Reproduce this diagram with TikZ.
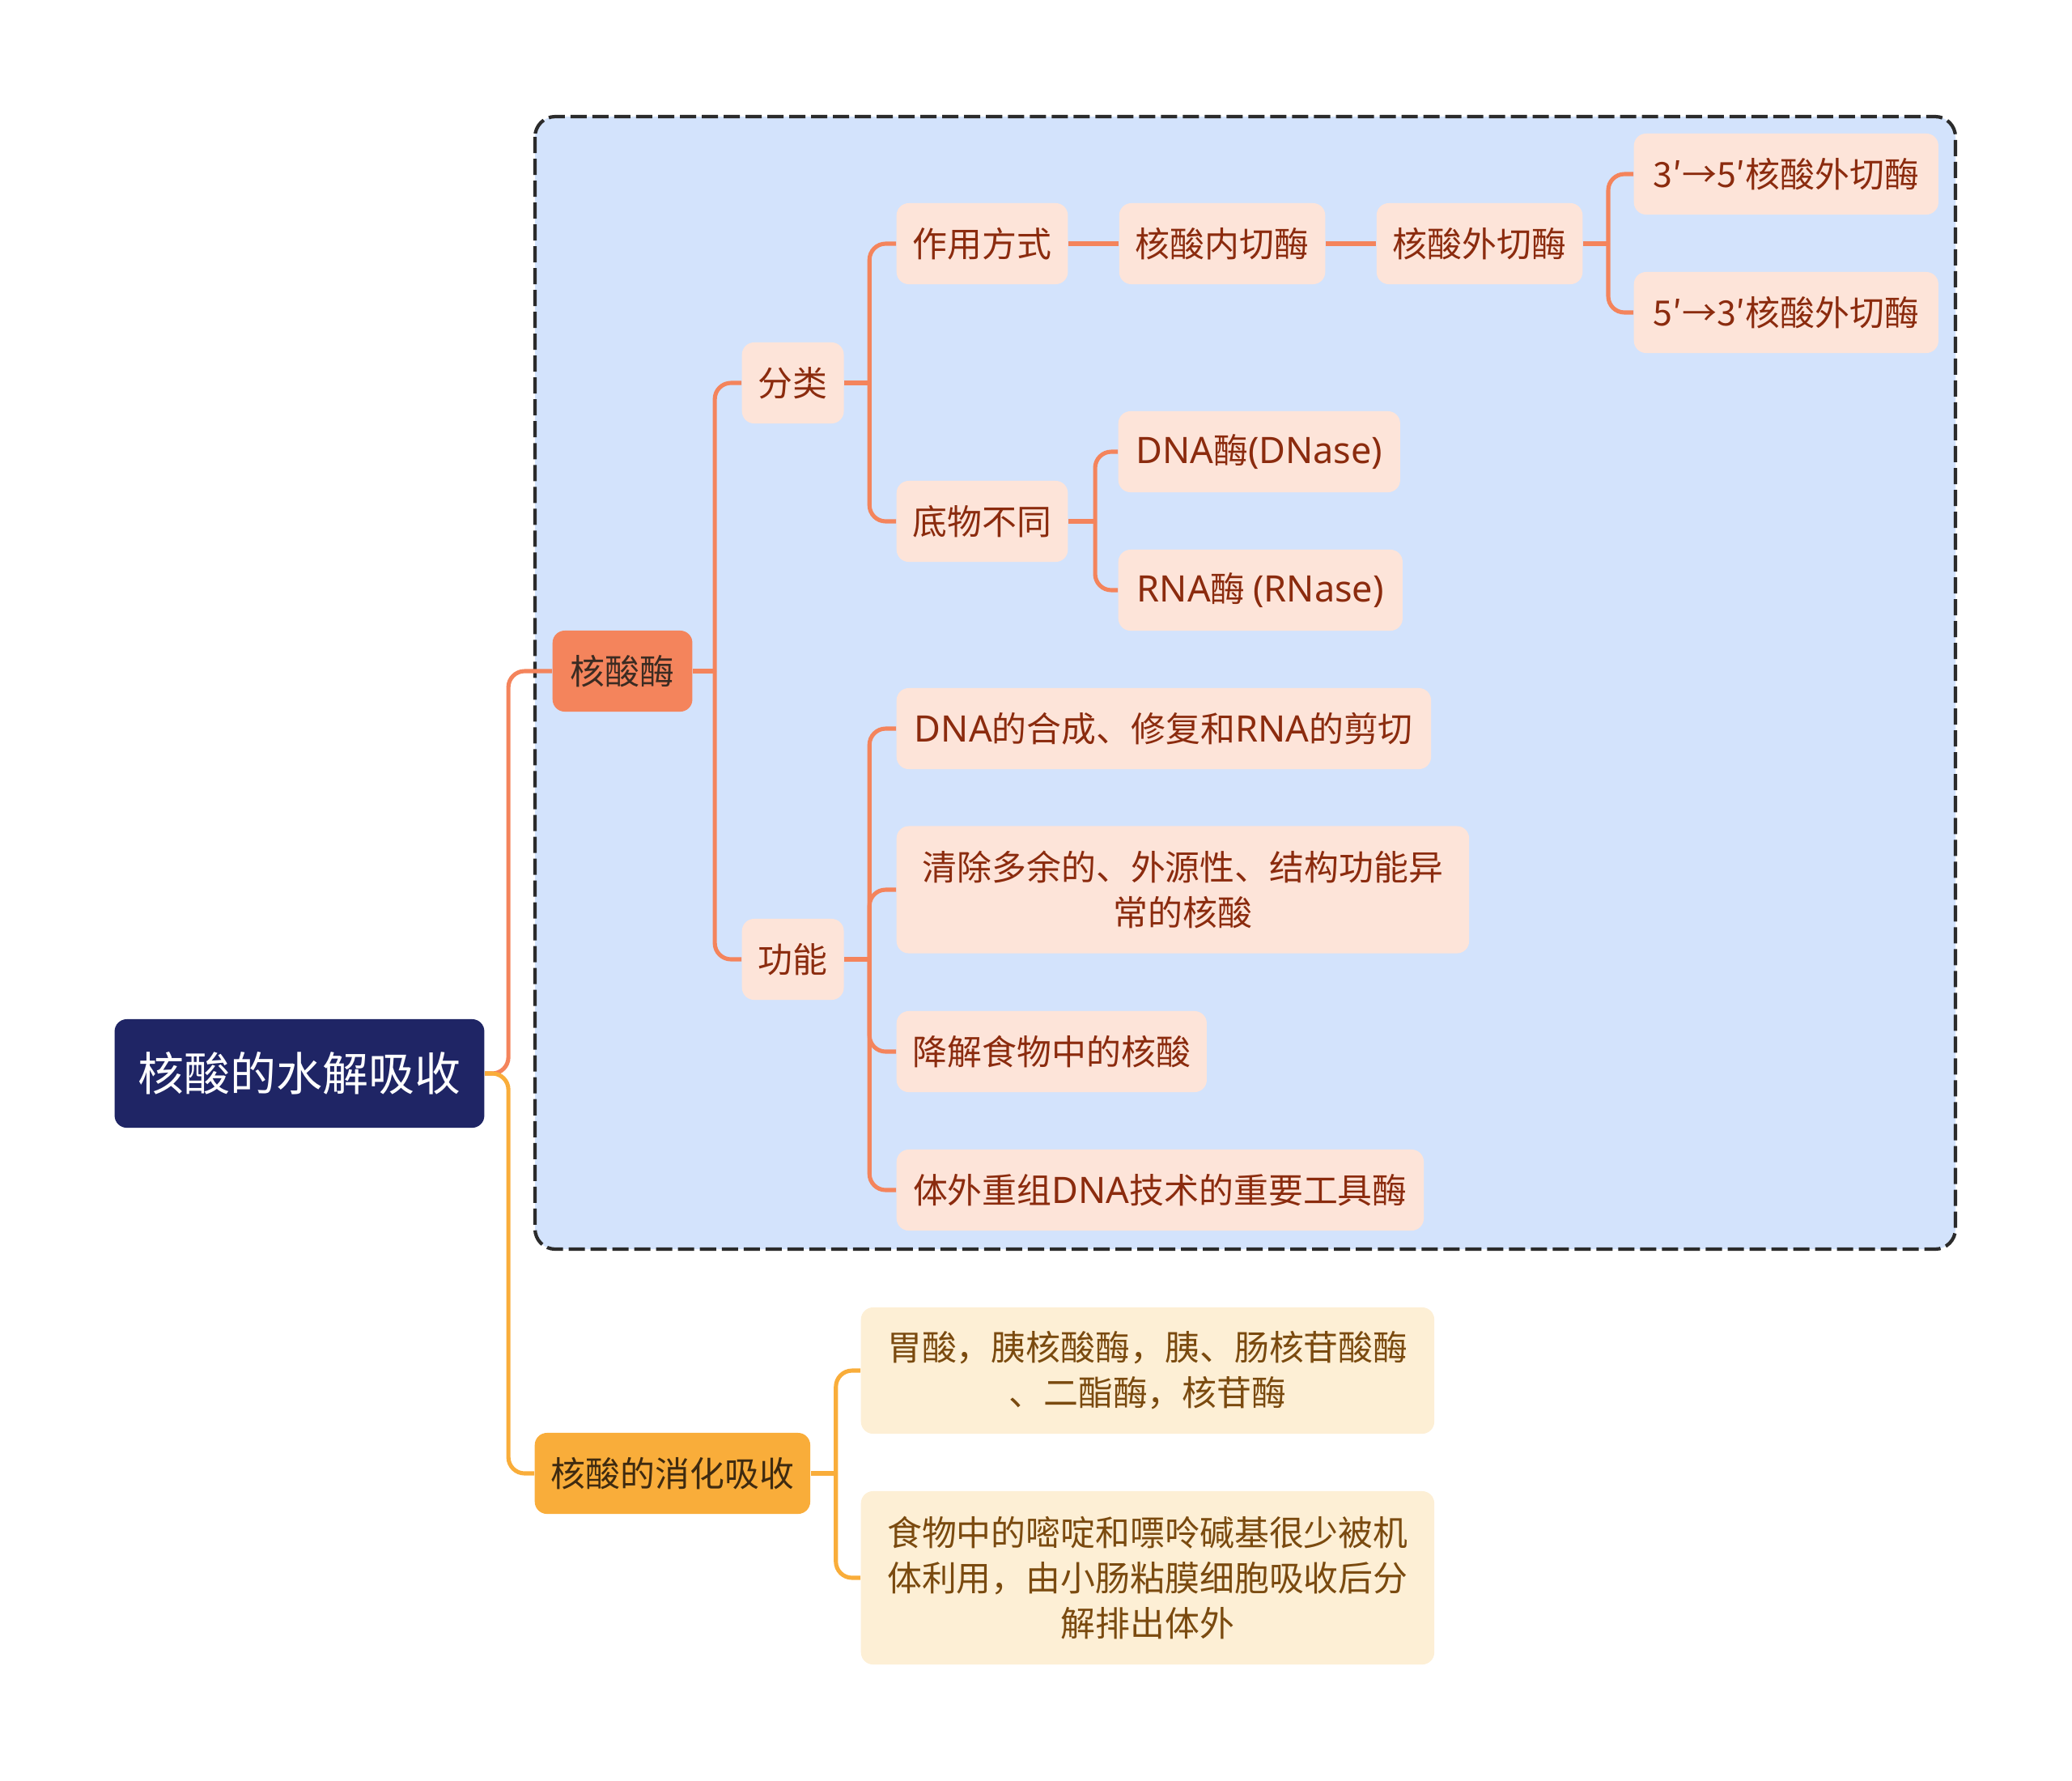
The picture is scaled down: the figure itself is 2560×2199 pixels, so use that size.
\documentclass[tikz,border=0pt]{standalone}
\usepackage{fontspec}
\setmainfont{Noto Sans CJK SC}
\newfontfamily\latinfont[Scale=1.05]{Noto Sans}
\newcommand{\lat}[1]{{\latinfont #1}}
\usetikzlibrary{positioning}

\definecolor{rootblue}{HTML}{1F2565}
\definecolor{enzorange}{HTML}{F4845C}
\definecolor{absyellow}{HTML}{F9AD3A}
\definecolor{pinkfill}{HTML}{FDE4D9}
\definecolor{pinktext}{HTML}{8B2B0E}
\definecolor{creamfill}{HTML}{FDEFD5}
\definecolor{creamtext}{HTML}{7A4A0F}
\definecolor{panelblue}{HTML}{D3E3FC}
\definecolor{paneledge}{HTML}{2B2B2B}

\tikzset{
  topicbox/.style={rounded corners=0.15cm, minimum height=1cm, inner xsep=0.2cm,
    inner ysep=0pt, font=\fontsize{12.2}{15.9}\selectfont, align=center},
  enzbox/.style={topicbox, fill=pinkfill, text=pinktext},
  absbox/.style={topicbox, fill=creamfill, text=creamtext},
  enzlink/.style={draw=enzorange, line width=1.45pt, rounded corners=0.2cm},
  abslink/.style={draw=absyellow, line width=1.45pt, rounded corners=0.2cm}
}

\begin{document}
\begin{tikzpicture}[x=0.01cm, y=-0.01cm]
  \useasboundingbox (0,0) rectangle (2560,2199);

  % dashed panel behind the enzyme branch
  \draw[fill=panelblue, draw=paneledge, line width=1.2pt, rounded corners=0.25cm,
        dash pattern=on 0.2cm off 0.07cm] (661,144) rectangle (2416,1543);

  \node[topicbox, fill=rootblue, text=white, minimum height=1.34cm, inner xsep=0.29cm,
        font=\fontsize{16.2}{20}\selectfont] (root) at (370,1326) {核酸的水解吸收};

  % level 1
  \node[topicbox, fill=enzorange, text={rgb,255:red,59;green,43;blue,34}, anchor=west,
        inner xsep=0.22cm] (hsm) at (682,829) {核酸酶};
  \node[topicbox, fill=absyellow, text={rgb,255:red,62;green,42;blue,16}, anchor=west]
        (xhxs) at (660,1820) {核酸的消化吸收};

  % enzyme branch
  \node[enzbox, anchor=west] (fenlei) at (916,473) {分类};
  \node[enzbox, anchor=west] (gongneng) at (916,1185) {功能};

  \node[enzbox, anchor=west] (zyfs) at (1107,301) {作用方式};
  \node[enzbox, right=0.62cm of zyfs] (neiqie) {核酸内切酶};
  \node[enzbox, right=0.62cm of neiqie] (waiqie) {核酸外切酶};
  \node[enzbox, anchor=west, minimum width=3.76cm] (w35) at (2018,215) {3′→5′核酸外切酶};
  \node[enzbox, anchor=west, minimum width=3.76cm] (w53) at (2018,386) {5′→3′核酸外切酶};

  \node[enzbox, anchor=west] (dwbt) at (1107,644) {底物不同};
  \node[enzbox, anchor=west, minimum width=3.48cm] (dnase) at (1381,558)
        {\lat{DNA}酶\lat{(DNase)}};
  \node[enzbox, anchor=west, minimum width=3.51cm] (rnase) at (1381,729)
        {\lat{RNA}酶 \lat{(RNase)}};

  \node[enzbox, anchor=west, minimum width=6.6cm] (gn1) at (1107,900)
        {\lat{DNA}的合成、修复和\lat{RNA}的剪切};
  \node[enzbox, anchor=west, minimum width=7.07cm, minimum height=1.57cm] (gn2)
        at (1107,1099) {清除多余的、外源性、结构功能异\\常的核酸};
  \node[enzbox, anchor=west] (gn3) at (1107,1299) {降解食物中的核酸};
  \node[enzbox, anchor=west, minimum width=6.51cm] (gn4) at (1107,1470)
        {体外重组\lat{DNA}技术的重要工具酶};

  % absorption branch
  \node[absbox, anchor=west, minimum width=7.08cm, minimum height=1.56cm] (xh1)
        at (1063,1693) {胃酸，胰核酸酶，胰、肠核苷酸酶\\、二酯酶，核苷酶};
  \node[absbox, anchor=west, minimum width=7.08cm, minimum height=2.14cm] (xh2)
        at (1063,1949) {食物中的嘧啶和嘌呤碱基很少被机\\体利用，由小肠粘膜细胞吸收后分\\解排出体外};

  % connectors
  \draw[enzlink] (root.east) -- ++(29,0) coordinate (rj) |- (hsm.west);
  \draw[abslink] (root.east) -- (rj) |- (xhxs.west);

  \draw[enzlink] (hsm.east) -- ++(27,0) coordinate (hj);
  \draw[enzlink] (hj) |- (fenlei.west);
  \draw[enzlink] (hj) |- (gongneng.west);

  \draw[enzlink] (fenlei.east) -- ++(31,0) coordinate (fj);
  \draw[enzlink] (fj) |- (zyfs.west);
  \draw[enzlink] (fj) |- (dwbt.west);

  \draw[enzlink] (zyfs) -- (neiqie);
  \draw[enzlink] (neiqie) -- (waiqie);
  \draw[enzlink] (waiqie.east) -- ++(31,0) coordinate (wj);
  \draw[enzlink] (wj) |- (w35.west);
  \draw[enzlink] (wj) |- (w53.west);

  \draw[enzlink] (dwbt.east) -- ++(33,0) coordinate (dj);
  \draw[enzlink] (dj) |- (dnase.west);
  \draw[enzlink] (dj) |- (rnase.west);

  \draw[enzlink] (gongneng.east) -- ++(31,0) coordinate (gj);
  \foreach \g in {gn1,gn2,gn3,gn4}
    \draw[enzlink] (gj) |- (\g.west);

  \draw[abslink] (xhxs.east) -- ++(31,0) coordinate (xj);
  \draw[abslink] (xj) |- (xh1.west);
  \draw[abslink] (xj) |- (xh2.west);
\end{tikzpicture}
\end{document}
